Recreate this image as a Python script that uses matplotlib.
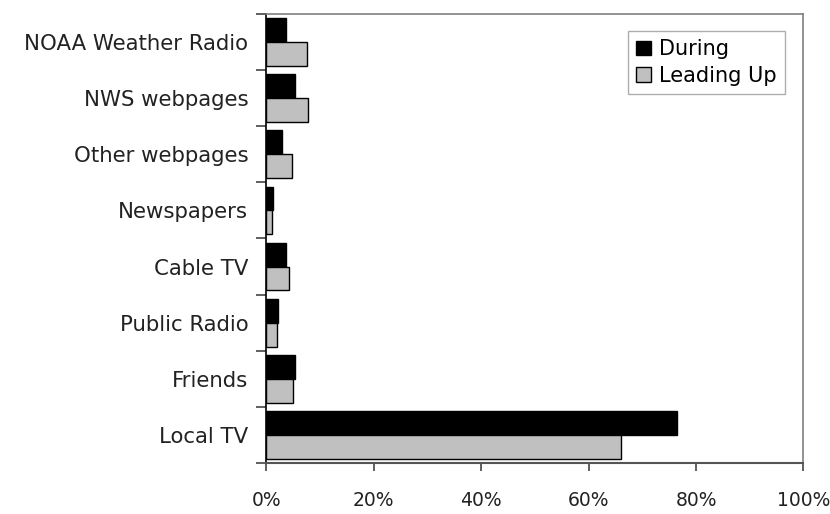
import matplotlib
matplotlib.use("Agg")
import matplotlib.pyplot as plt
import numpy as np
from matplotlib.ticker import FuncFormatter, FixedLocator

categories = ["NOAA Weather Radio", "NWS webpages", "Other webpages", "Newspapers",
              "Cable TV", "Public Radio", "Friends", "Local TV"]
during = [3.6, 5.3, 2.9, 1.2, 3.6, 2.1, 5.3, 76.5]
leading_up = [7.6, 7.8, 4.8, 1.1, 4.2, 2.0, 5.0, 66.1]
xticks = [0, 20, 40, 60, 80, 100]

plt.rcParams['font.family'] = ['DejaVu Sans']

fig = plt.figure(figsize=(8.3, 5.14), dpi=100)
ax = fig.add_axes([0.321, 0.099, 0.647, 0.874])

n = len(categories)
pos = np.arange(n)[::-1]  # top category first
h = 0.425
ax.barh(pos + h / 2, during, height=h, color="black", edgecolor="black", linewidth=1, label="During")
ax.barh(pos - h / 2, leading_up, height=h, color="#c0c0c0", edgecolor="black", linewidth=1, label="Leading Up")

ax.set_xlim(0, 100)
ax.set_ylim(-0.5, n - 0.5)
ax.set_xticks(xticks)
ax.xaxis.set_major_formatter(FuncFormatter(lambda v, p: f"{int(v)}%"))
ax.set_yticks(pos)
ax.set_yticklabels(categories)
ax.yaxis.set_minor_locator(FixedLocator(np.arange(-0.5, n, 1.0)))
ax.tick_params(axis='y', which='major', length=0, pad=13, labelsize=15.3, colors="#222222")
ax.tick_params(axis='y', which='minor', length=7, width=1.2, color="#444444", direction='out')
ax.tick_params(axis='x', length=6, width=1.2, color="#444444", direction='out', pad=14, labelsize=13.5, labelcolor="#222222")

for s in ['top', 'right']:
    ax.spines[s].set_color("#808080")
    ax.spines[s].set_linewidth(1.2)
ax.spines['left'].set_color("black")
ax.spines['left'].set_linewidth(1.2)
ax.spines['bottom'].set_color("#555555")
ax.spines['bottom'].set_linewidth(1.5)

leg = ax.legend(loc="upper right", bbox_to_anchor=(0.985, 0.985), fontsize=15, frameon=True,
                fancybox=False, edgecolor="#999999", handlelength=0.7, handleheight=0.7,
                handletextpad=0.4, borderpad=0.4, labelspacing=0.3)
leg.get_frame().set_linewidth(1)

fig.savefig("out.png", dpi=100, facecolor="white")
